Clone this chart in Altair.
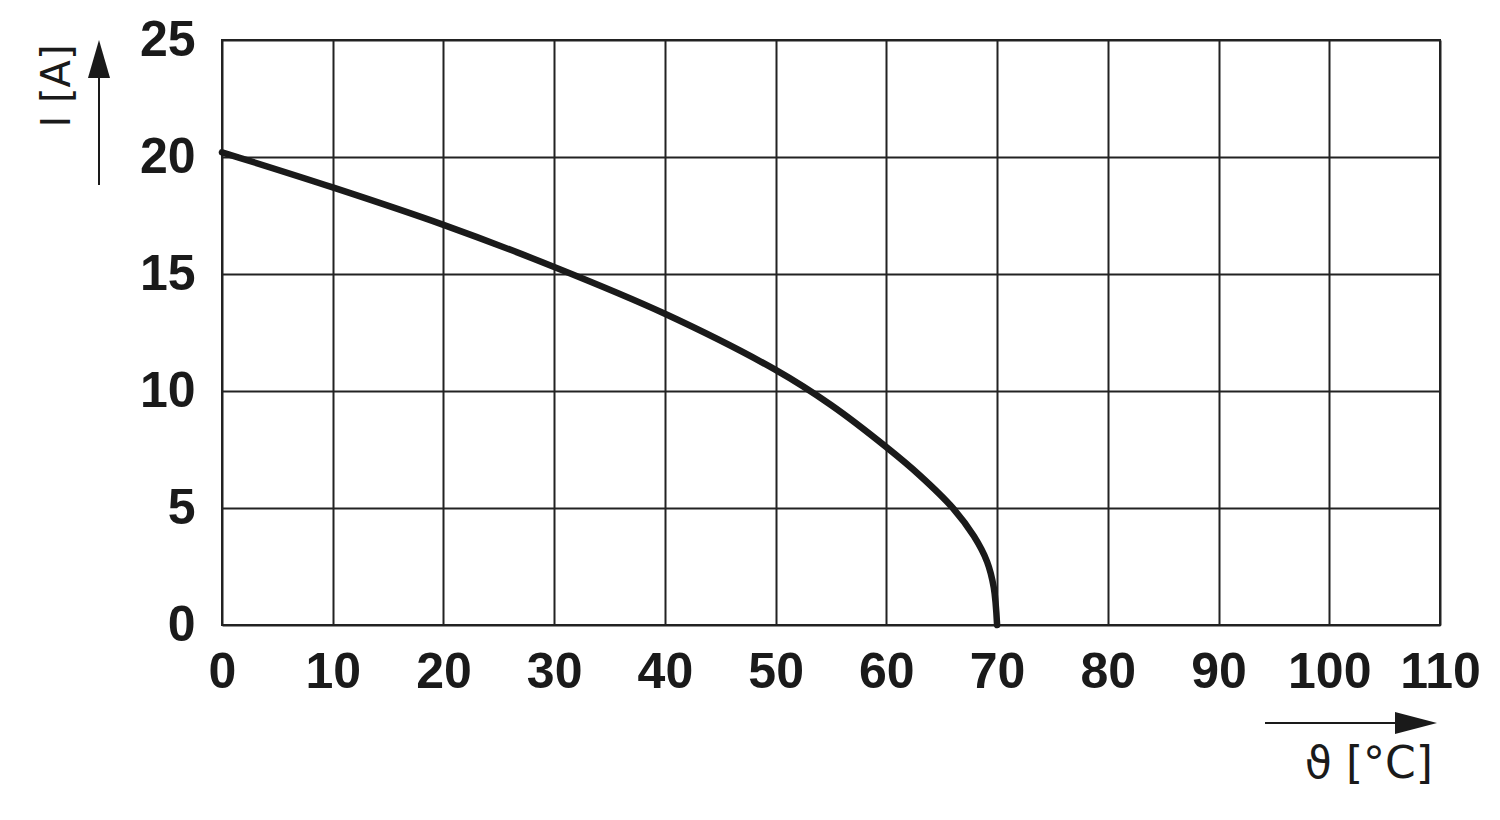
import altair as alt
import pandas as pd

temperature = [0, 10, 20, 30, 40, 50, 55, 60, 63, 66, 67.9, 69.1, 69.7, 70]
current = [20.2, 18.7, 17.1, 15.3, 13.3, 10.9, 9.4, 7.6, 6.4, 5.0, 3.8, 2.7, 1.6, 0]
x_ticks = list(range(0, 111, 10))
y_ticks = list(range(0, 26, 5))

df = pd.DataFrame({"T": temperature, "I": current})

W, H = 1218, 585
LABEL_FONT = "Liberation Sans"
TITLE_FONT = "DejaVu Sans"

x_scale = alt.Scale(domain=[0, 110], nice=False, zero=False)
y_scale = alt.Scale(domain=[0, 25], nice=False)

line = alt.Chart(df).mark_line(
    color="#1a1a1a", strokeWidth=6.5, interpolate="catmull-rom", strokeCap="round"
).encode(
    x=alt.X("T:Q", scale=x_scale, axis=alt.Axis(
        values=x_ticks, title=None, grid=True, gridColor="#222222", gridWidth=2,
        domain=False, ticks=False, labelFont=LABEL_FONT, labelFontSize=50,
        labelFontWeight="bold", labelColor="#1a1a1a", labelPadding=22,
        labelFlush=False, labelOverlap=False)),
    y=alt.Y("I:Q", scale=y_scale, axis=alt.Axis(
        values=y_ticks, title=None, grid=True, gridColor="#222222", gridWidth=2,
        domain=False, ticks=False, labelFont=LABEL_FONT, labelFontSize=50,
        labelFontWeight="bold", labelColor="#1a1a1a", labelPadding=27,
        labelFlush=False, labelOverlap=False)),
)

anno = pd.DataFrame({"k": [0]})
base = alt.Chart(anno)

# y-axis title and arrow
y_title = base.mark_text(
    text="I [A]", angle=270, font=TITLE_FONT, fontSize=40, color="#1a1a1a",
    align="center", baseline="middle"
).encode(x=alt.value(-164), y=alt.value(46))
y_arrow = base.mark_rule(color="#1a1a1a", strokeWidth=2).encode(
    x=alt.value(-123), y=alt.value(145), y2=alt.value(30))
y_head = base.mark_point(
    shape="M0,-1L0.58,1L-0.58,1Z", size=1444, filled=True, color="#1a1a1a", opacity=1
).encode(x=alt.value(-123), y=alt.value(19))

# x-axis title and arrow
x_arrow = base.mark_rule(color="#1a1a1a", strokeWidth=2).encode(
    x=alt.value(1043), x2=alt.value(1190), y=alt.value(683))
x_head = base.mark_point(
    shape="M1,0L-1,-0.52L-1,0.52Z", size=1764, filled=True, color="#1a1a1a", opacity=1
).encode(x=alt.value(1194), y=alt.value(683))
x_title = base.mark_text(
    text="ϑ [°C]", font=TITLE_FONT, fontSize=44, color="#1a1a1a",
    align="right", baseline="middle"
).encode(x=alt.value(1211), y=alt.value(725))

chart = alt.layer(line, y_title, y_arrow, y_head, x_arrow, x_head, x_title).properties(
    width=W, height=H,
    autosize=alt.AutoSizeParams(type="none"),
    padding={"left": 214, "top": 32, "right": 50, "bottom": 185},
    background="white",
).configure_view(stroke="#222222", strokeWidth=2)

chart.save("out.html", embed_options={"renderer": "svg", "actions": False})
